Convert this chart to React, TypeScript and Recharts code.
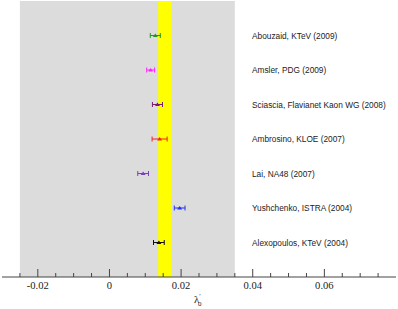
import {
  ScatterChart,
  Scatter,
  XAxis,
  YAxis,
  ErrorBar,
  ReferenceArea,
} from "recharts";

const experiments = [
  "Abouzaid, KTeV (2009)",
  "Amsler, PDG (2009)",
  "Sciascia, Flavianet Kaon WG (2008)",
  "Ambrosino, KLOE (2007)",
  "Lai, NA48 (2007)",
  "Yushchenko, ISTRA (2004)",
  "Alexopoulos, KTeV (2004)",
];
const rows = [7, 6, 5, 4, 3, 2, 1];
const lambda0 = [0.0128, 0.0115, 0.0134, 0.014, 0.0094, 0.0196, 0.0138];
const lambda0Err = [0.0014, 0.0011, 0.0014, 0.0021, 0.0015, 0.0015, 0.0015];
const colors = ["#1f9a1f", "#ff22ff", "#7a1a6e", "#ee2222", "#7b3fc4", "#2233ee", "#111111"];

const xDomain = [-0.03, 0.08];
const yDomain = [0, 8];
const majorTicks = [-0.02, 0, 0.02, 0.04, 0.06];
const allXTicks = [
  -0.025, -0.02, -0.015, -0.01, -0.005, 0, 0.005, 0.01, 0.015, 0.02, 0.025, 0.03,
  0.035, 0.04, 0.045, 0.05, 0.055, 0.06, 0.065, 0.07, 0.075,
];
const yTicks = [1, 2, 3, 4, 5, 6, 7];
const greyBand = [-0.025, 0.035];
const yellowBand = [0.0136, 0.0173];
const labelX = 0.0398;

const FRAME = "#444";
const SERIF = "'Liberation Serif', 'DejaVu Serif', serif";
const SANS = "'Liberation Sans', Arial, sans-serif";

const isMajor = (v: number) => majorTicks.some((m) => Math.abs(m - v) < 1e-9);

function BottomTick({ x, y, payload }: any) {
  const major = isMajor(payload.value);
  return (
    <g>
      <line x1={x} x2={x} y1={y} y2={y - (major ? 8 : 4)} stroke={FRAME} />
      {major && (
        <text
          x={x}
          y={y + 12}
          textAnchor="middle"
          style={{ fontFamily: SERIF, fontSize: 10.6 }}
          fill="#222"
        >
          {String(payload.value)}
        </text>
      )}
    </g>
  );
}

function TopTick({ x, y, payload }: any) {
  const major = isMajor(payload.value);
  return <line x1={x} x2={x} y1={y} y2={y + (major ? 8 : 4)} stroke={FRAME} />;
}

function LeftTick({ x, y }: any) {
  return <line x1={x} x2={x + 4} y1={y} y2={y} stroke={FRAME} />;
}

function RightTick({ x, y }: any) {
  return <line x1={x} x2={x - 4} y1={y} y2={y} stroke={FRAME} />;
}

function AxisTitle({ viewBox }: any) {
  const x = viewBox.x + viewBox.width / 2 - 5;
  const y = viewBox.y + 26;
  return (
    <text x={x} y={y} style={{ fontFamily: SERIF, fontSize: 11 }} fill="#222">
      <tspan>λ</tspan>
      <tspan style={{ fontSize: 7 }} dy={-5}>′</tspan>
      <tspan style={{ fontSize: 7 }} dx={-3} dy={8}>0</tspan>
    </text>
  );
}

function Triangle({ cx, cy, fill }: any) {
  return (
    <polygon
      points={`${cx - 2.5},${cy + 1.5} ${cx + 2.5},${cy + 1.5} ${cx},${cy - 2}`}
      fill={fill}
    />
  );
}

const series = experiments.map((name, i) => ({
  name,
  color: colors[i],
  data: [{ x: lambda0[i], y: rows[i], err: lambda0Err[i] }],
}));

const labelData = experiments.map((name, i) => ({ x: labelX, y: rows[i], name }));

export default function App() {
  return (
    <div style={{ position: "absolute", left: 0, top: 0 }}>
      <ScatterChart width={398} height={309} margin={{ top: 1, right: 2, bottom: 0, left: 2 }}>
        <XAxis
          xAxisId="bottom"
          type="number"
          dataKey="x"
          domain={xDomain}
          ticks={allXTicks}
          interval={0}
          height={32}
          tickSize={0}
          tickMargin={0}
          tickLine={false}
          tick={<BottomTick />}
          axisLine={{ stroke: FRAME }}
          label={<AxisTitle />}
          allowDataOverflow
        />
        <XAxis
          xAxisId="top"
          orientation="top"
          type="number"
          dataKey="x"
          domain={xDomain}
          ticks={allXTicks}
          interval={0}
          height={0}
          tickSize={0}
          tickMargin={0}
          tickLine={false}
          tick={<TopTick />}
          axisLine={{ stroke: FRAME }}
          allowDataOverflow
        />
        <YAxis
          yAxisId="left"
          type="number"
          dataKey="y"
          domain={yDomain}
          ticks={yTicks}
          interval={0}
          width={0}
          tickSize={0}
          tickMargin={0}
          tickLine={false}
          tick={<LeftTick />}
          axisLine={{ stroke: FRAME }}
        />
        <YAxis
          yAxisId="right"
          orientation="right"
          type="number"
          dataKey="y"
          domain={yDomain}
          ticks={yTicks}
          interval={0}
          width={0}
          tickSize={0}
          tickMargin={0}
          tickLine={false}
          tick={<RightTick />}
          axisLine={{ stroke: FRAME }}
        />
        <ReferenceArea
          xAxisId="bottom"
          yAxisId="left"
          x1={greyBand[0]}
          x2={greyBand[1]}
          fill="#dcdcdc"
          fillOpacity={1}
          stroke="none"
        />
        <ReferenceArea
          xAxisId="bottom"
          yAxisId="left"
          x1={yellowBand[0]}
          x2={yellowBand[1]}
          fill="#ffff00"
          fillOpacity={1}
          stroke="none"
        />
        {series.map((s) => (
          <Scatter
            key={s.name}
            xAxisId="bottom"
            yAxisId="left"
            data={s.data}
            fill={s.color}
            shape={<Triangle />}
            isAnimationActive={false}
          >
            <ErrorBar dataKey="err" direction="x" width={2.5} stroke={s.color} strokeWidth={1} />
          </Scatter>
        ))}
        <Scatter
          xAxisId="bottom"
          yAxisId="left"
          data={labelData}
          isAnimationActive={false}
          shape={(p: any) => (
            <text x={p.cx} y={p.cy + 3} style={{ fontFamily: SANS, fontSize: 8.3 }} fill="#222">
              {p.payload.name}
            </text>
          )}
        />
      </ScatterChart>
    </div>
  );
}
